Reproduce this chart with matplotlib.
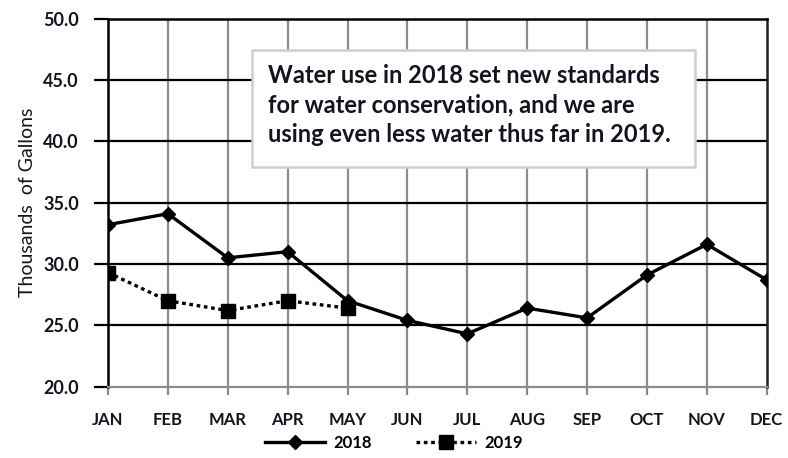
import matplotlib.pyplot as plt
from matplotlib.lines import Line2D
from matplotlib.patches import Rectangle

# === datos ===
meses = ["JAN", "FEB", "MAR", "APR", "MAY", "JUN", "JUL", "AUG", "SEP", "OCT", "NOV", "DEC"]
uso_2018 = [33.2, 34.1, 30.5, 31.0, 27.0, 25.4, 24.3, 26.4, 25.6, 29.1, 31.6, 28.7]
uso_2019 = [29.3, 27.0, 26.2, 27.0, 26.4]
y_ticks = [20.0, 25.0, 30.0, 35.0, 40.0, 45.0, 50.0]

nota = ("Water use in 2018 set new standards\n"
        "for water conservation, and we are\n"
        "using even less water thus far in 2019.")

plt.rcParams["font.family"] = ["Lato", "DejaVu Sans"]
color_txt = "#141420"

fig = plt.figure(figsize=(7.88, 4.58), dpi=100)
ax = fig.add_axes([0.137, 0.156, 0.836, 0.803])

x18 = list(range(len(uso_2018)))
x19 = list(range(len(uso_2019)))

ax.plot(x18, uso_2018, color="black", lw=2.4, marker="D", ms=7, label="2018", zorder=4)
ax.plot(x19, uso_2019, color="black", lw=2.4, ls=(0, (1.1, 1.1)), marker="s", ms=9.5, label="2019", zorder=4)

ax.set_xlim(0, len(meses) - 1)
ax.set_ylim(20, 50)
ax.set_xticks(range(len(meses)))
ax.set_xticklabels(meses, fontweight="bold", fontsize=12, color=color_txt)
ax.set_yticks(y_ticks)
ax.set_yticklabels([f"{v:.1f}" for v in y_ticks], fontweight="bold", fontsize=13, color=color_txt)

# grilla: verticales grises, horizontales negras
for i in range(1, len(meses) - 1):
    ax.axvline(i, color="#8c8c8c", lw=1.6, zorder=1)
for v in y_ticks[1:-1]:
    ax.axhline(v, color="black", lw=1.6, zorder=1)

for s in ["left", "top"]:
    ax.spines[s].set_color("black")
    ax.spines[s].set_linewidth(1.8)
ax.spines["right"].set_color("#222222")
ax.spines["right"].set_linewidth(1.8)
ax.spines["bottom"].set_color("#8c8c8c")
ax.spines["bottom"].set_linewidth(1.6)

ax.tick_params(axis="x", length=6, width=1.6, color="#8c8c8c", pad=12)
ax.tick_params(axis="y", length=10, width=1.6, color="black", pad=11)

ax.set_ylabel("Thousands  of Gallons", fontsize=14, color=color_txt, labelpad=5)

# caja de texto (rectangulo aparte para controlar los margenes)
ax.add_patch(Rectangle((0.2185, 0.5975), 0.672, 0.318, transform=ax.transAxes,
                       fc="white", ec="#cfcfcf", lw=1.8, zorder=5))
ax.text(0.243, 0.877, nota, transform=ax.transAxes, fontsize=17, fontweight="bold",
        color=color_txt, va="top", ha="left", linespacing=1.33, zorder=6)

# leyenda abajo
h18 = Line2D([], [], color="black", lw=2.4, marker="D", ms=7)
h19 = Line2D([], [], color="black", lw=2.4, ls=(0, (1.1, 1.1)), marker="s", ms=9.5)
fig.legend([h18, h19], ["2018", "2019"], loc="center", bbox_to_anchor=(0.5, 0.033),
           ncol=2, frameon=False, handlelength=3.6, handletextpad=0.5, columnspacing=2.6,
           prop={"weight": "bold", "size": 12})

fig.savefig("out.png", dpi=100)
